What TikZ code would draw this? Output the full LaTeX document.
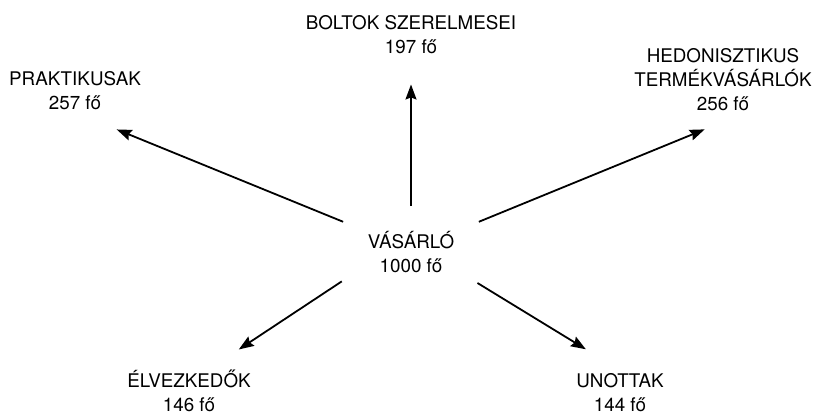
\documentclass[tikz,border=0pt]{standalone}
\usepackage{fontspec}
\setmainfont{TeX Gyre Heros}
\usepackage{tikz}
\usetikzlibrary{arrows.meta,shapes.geometric}

\tikzset{
  lbl/.style={align=center, inner sep=3pt, outer sep=0pt,
    font=\fontsize{18.8}{24}\selectfont},
  hub/.style={lbl, ellipse, minimum width=180pt, minimum height=92pt},
  arr/.style={line width=1.8pt, -{Stealth[length=15pt,width=11pt,inset=2pt]}}
}

\begin{document}
\begin{tikzpicture}[x=1pt,y=-1pt]
    \useasboundingbox (0,0) rectangle (822,417);

    % centre
    \node[hub] (vas) at (411,252) {VÁSÁRLÓ\\1000 fő};

    % groups
    \node[lbl] (bolt) at (411,34.3) {BOLTOK SZERELMESEI\\197 fő};
    \node[lbl] (prak) at (75,90.3) {PRAKTIKUSAK\\257 fő};
    \node[lbl] (hedon) at (723,79.3) {HEDONISZTIKUS\\TERMÉKVÁSÁRLÓK\\256 fő};
    \node[lbl] (elv) at (189,390.5) {ÉLVEZKEDŐK\\146 fő};
    \node[lbl] (unot) at (620,392.3) {UNOTTAK\\144 fő};

    % arrows
    \draw[arr, shorten >=28pt] (vas.90) -- (bolt.south);
    \draw[arr, shorten >=45pt] (vas.156) -- (prak.south);
    \draw[arr, shorten >=42pt] (vas.24) -- (hedon.301);
    \draw[arr, shorten >=31pt] (vas.203) -- (elv.45);
    \draw[arr, shorten >=40pt] (vas.335) -- (unot.north);
\end{tikzpicture}
\end{document}
